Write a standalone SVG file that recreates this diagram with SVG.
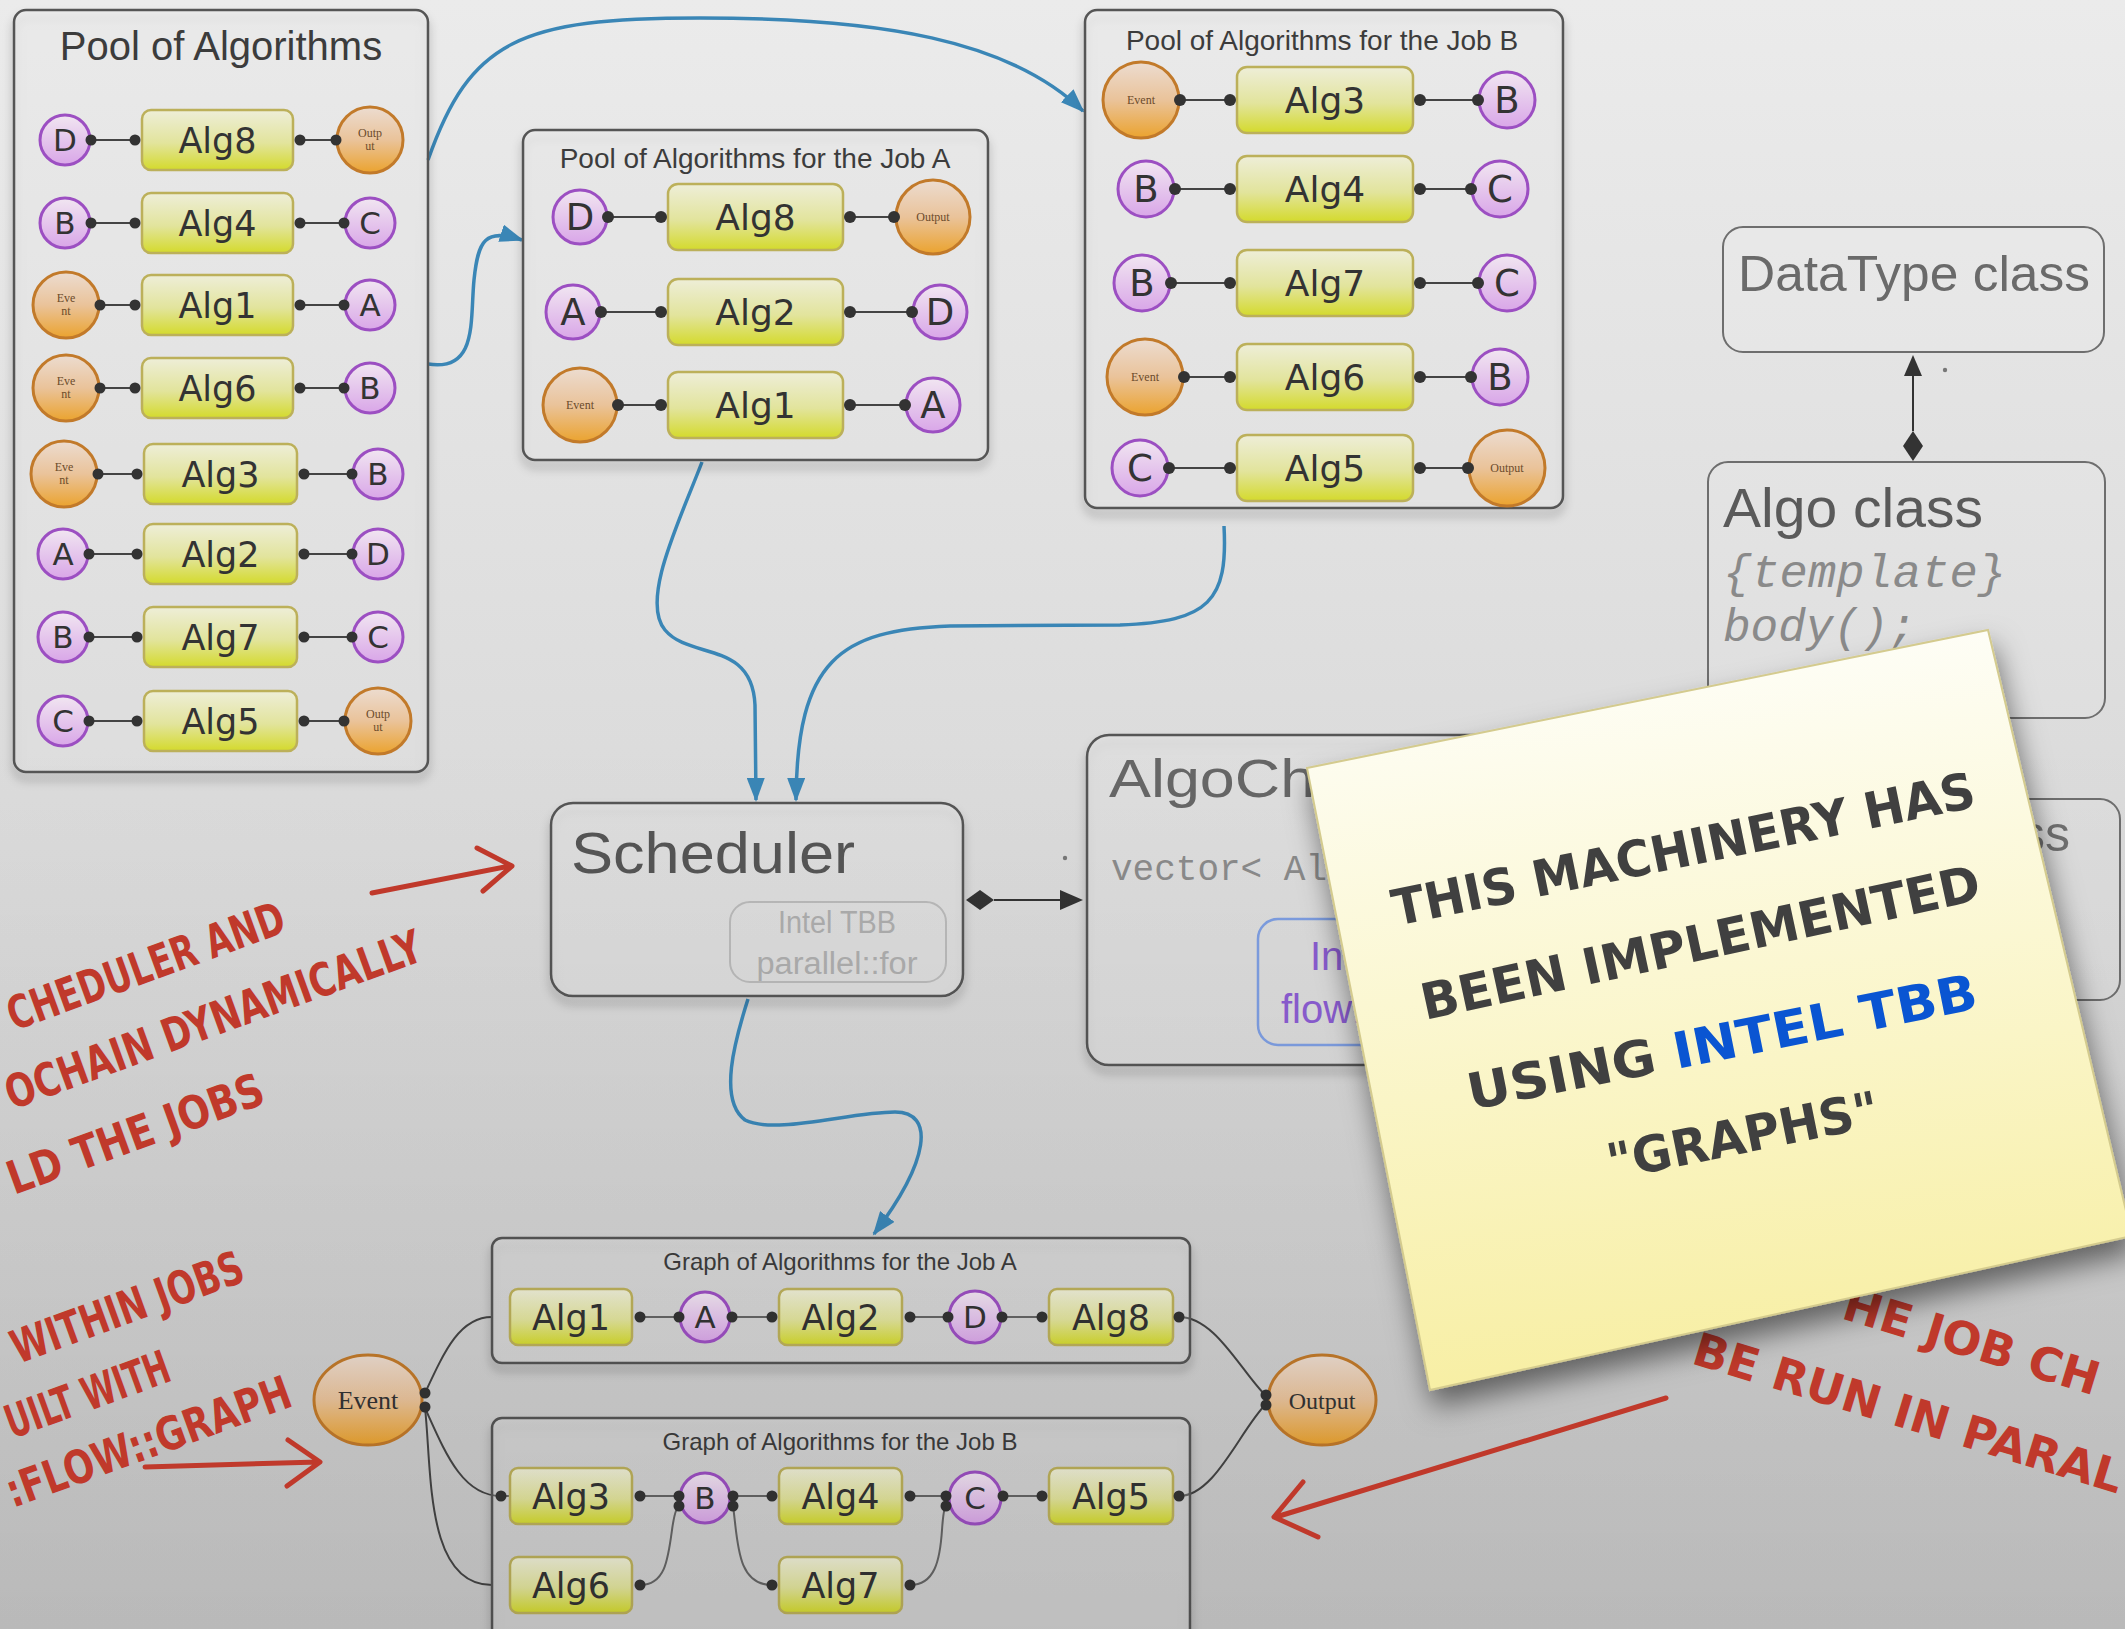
<svg xmlns="http://www.w3.org/2000/svg" width="2125" height="1629" viewBox="0 0 2125 1629">
<defs>
<linearGradient id="bg" x1="0" y1="0" x2="0" y2="1"><stop offset="0" stop-color="#ebebeb"/><stop offset="0.55" stop-color="#d9d9d9"/><stop offset="1" stop-color="#c9c9c9"/></linearGradient>
<linearGradient id="vig" x1="0" y1="0" x2="0" y2="1"><stop offset="0.45" stop-color="#000" stop-opacity="0"/><stop offset="1" stop-color="#000" stop-opacity="0.08"/></linearGradient>
<linearGradient id="gAlg" x1="0" y1="0" x2="0" y2="1"><stop offset="0" stop-color="#eeeed8"/><stop offset="0.55" stop-color="#e2e49c"/><stop offset="1" stop-color="#d4da2c"/></linearGradient>
<linearGradient id="gPur" x1="0" y1="0" x2="0" y2="1"><stop offset="0" stop-color="#f1e6f1"/><stop offset="1" stop-color="#d9a6e8"/></linearGradient>
<linearGradient id="gOr" x1="0" y1="0" x2="0" y2="1"><stop offset="0" stop-color="#ecdcd0"/><stop offset="0.5" stop-color="#eac39a"/><stop offset="1" stop-color="#eba32e"/></linearGradient>
<linearGradient id="gNote" gradientUnits="userSpaceOnUse" x1="1700" y1="640" x2="1780" y2="1390"><stop offset="0" stop-color="#fefef8"/><stop offset="1" stop-color="#f7eea0"/></linearGradient>
<filter id="sh" x="-10%" y="-10%" width="120%" height="130%"><feDropShadow dx="0" dy="7" stdDeviation="5" flood-color="#000" flood-opacity="0.35"/></filter>
<filter id="shn" x="-20%" y="-20%" width="140%" height="150%"><feDropShadow dx="4" dy="16" stdDeviation="14" flood-color="#000" flood-opacity="0.5"/></filter>
<marker id="ab" markerUnits="userSpaceOnUse" markerWidth="26" markerHeight="18" refX="22" refY="9" orient="auto"><path d="M0,0 L24,9 L0,18 z" fill="#3a86b6"/></marker>
<style>
.box{fill:#fff;fill-opacity:.16;stroke:#555;stroke-width:2.5}
.cls{fill:#fff;fill-opacity:.08;stroke:#6e6e6e;stroke-width:2}
.alg{fill:url(#gAlg);stroke:#bcb05a;stroke-width:2.5}
.pc{fill:url(#gPur);stroke:#9c4fc2;stroke-width:3}
.oc{fill:url(#gOr);stroke:#c27a2a;stroke-width:3}
.at{font-family:"DejaVu Sans",sans-serif;font-size:35px;fill:#333;text-anchor:middle}
.at2{font-family:"DejaVu Sans",sans-serif;font-size:36px;fill:#333;text-anchor:middle}
.ct{font-family:"DejaVu Sans",sans-serif;font-size:31px;fill:#333;text-anchor:middle}
.ct2{font-family:"DejaVu Sans",sans-serif;font-size:37px;fill:#333;text-anchor:middle}
.tiny{font-family:"Liberation Serif",serif;font-size:12px;fill:#6b4b2b;text-anchor:middle}
.ttl{font-family:"Liberation Sans",Arial,sans-serif;fill:#3c3c3c;text-anchor:middle}
.wire{stroke:#444;stroke-width:2;fill:none}
.dot{fill:#333}
.blue{stroke:#3a86b6;stroke-width:3.5;fill:none;marker-end:url(#ab)}
.red{font-family:"DejaVu Sans",sans-serif;font-weight:bold;font-size:46px;fill:#c0392b}
.redl{stroke:#c0392b;stroke-width:5;fill:none;stroke-linecap:round;stroke-linejoin:round}
.note{font-family:"DejaVu Sans",sans-serif;font-weight:bold;font-size:50px;fill:#404040}
.geo{font-family:"Liberation Sans",Arial,sans-serif}
.mono{font-family:"Liberation Mono","Courier New",monospace}
</style>
</defs>
<rect width="2125" height="1629" fill="url(#bg)"/>

<g id="connectors">
<path class="blue" d="M428 160 C470 40 520 18 700 18 C880 18 1010 40 1083 111"/>
<path class="blue" d="M428 364 C478 372 470 320 474 280 C478 240 485 228 522 240"/>
<path class="blue" d="M702 462 C680 520 640 600 665 630 C690 660 752 640 755 705 L756 800"/>
<path class="blue" d="M1224 526 C1228 600 1210 622 1120 625 L950 626 C840 630 797 660 796 800"/>
<path class="blue" d="M748 999 C735 1040 718 1100 745 1120 C775 1135 850 1112 895 1112 C935 1112 930 1160 874 1234"/>
<g id="sched-algochain">
<line x1="994" y1="900" x2="1066" y2="900" stroke="#333" stroke-width="2"/>
<polygon points="966,900 980,890 994,900 980,910" fill="#333"/>
<polygon points="1083,900 1060,890 1060,910" fill="#333"/>
<circle cx="1065" cy="858" r="2.2" fill="#777"/>
</g>
<g id="algo-datatype">
<line x1="1913" y1="431" x2="1913" y2="372" stroke="#333" stroke-width="2"/>
<polygon points="1913,431 1923,446 1913,461 1903,446" fill="#333"/>
<polygon points="1913,355 1904,376 1922,376" fill="#333"/>
<circle cx="1945" cy="370" r="2.2" fill="#777"/>
</g>
<g id="graph-wires">
<path class="wire" d="M425 1393 C445 1350 460 1317 492 1317"/>
<path class="wire" d="M425 1408 C445 1452 462 1496 501 1496"/>
<path class="wire" d="M425 1408 C432 1470 425 1585 492 1585"/>
<path class="wire" d="M1179 1317 C1215 1317 1240 1370 1266 1396"/>
<path class="wire" d="M1179 1496 C1215 1496 1240 1430 1266 1404"/>
<path class="wire" d="M640 1317 H679 M732 1317 H772 M910 1317 H948 M1002 1317 H1042"/>
<path class="wire" d="M501 1496 H510 M640 1496 H679 M733 1496 H772 M910 1496 H946 M1003 1496 H1042"/>
<path class="wire" d="M640 1585 C665 1585 668 1560 672 1530 C674 1515 676 1508 679 1506"/>
<path class="wire" d="M733 1506 C738 1540 736 1585 772 1585"/>
<path class="wire" d="M910 1585 C935 1585 940 1560 942 1530 C943 1515 944 1508 946 1506"/>
</g>
</g>

<g id="pool" filter="url(#sh)"><rect class="box" x="14" y="10" width="414" height="762" rx="12"/></g>
<text class="ttl" x="221" y="60" font-size="40">Pool of Algorithms</text>

<g id="p0-r1">
<line class="wire" x1="91" y1="140" x2="135" y2="140"/><line class="wire" x1="300" y1="140" x2="336" y2="140"/>
<circle class="pc" cx="65" cy="140" r="25"/><text class="ct" x="65" y="151">D</text>
<rect class="alg" x="142" y="110" width="151" height="60" rx="9"/><text class="at" x="217.5" y="153">Alg8</text>
<circle class="oc" cx="370" cy="140" r="33"/><text class="tiny" x="370" y="137">Outp</text><text class="tiny" x="370" y="150">ut</text>
<circle class="dot" cx="91" cy="140" r="5.5"/><circle class="dot" cx="135" cy="140" r="5.5"/><circle class="dot" cx="300" cy="140" r="5.5"/><circle class="dot" cx="336" cy="140" r="5.5"/>
</g>
<g id="p0-r2">
<line class="wire" x1="91" y1="223" x2="135" y2="223"/><line class="wire" x1="300" y1="223" x2="344" y2="223"/>
<circle class="pc" cx="65" cy="223" r="25"/><text class="ct" x="65" y="234">B</text>
<rect class="alg" x="142" y="193" width="151" height="60" rx="9"/><text class="at" x="217.5" y="236">Alg4</text>
<circle class="pc" cx="370" cy="223" r="25"/><text class="ct" x="370" y="234">C</text>
<circle class="dot" cx="91" cy="223" r="5.5"/><circle class="dot" cx="135" cy="223" r="5.5"/><circle class="dot" cx="300" cy="223" r="5.5"/><circle class="dot" cx="344" cy="223" r="5.5"/>
</g>
<g id="p0-r3">
<line class="wire" x1="100" y1="305" x2="135" y2="305"/><line class="wire" x1="300" y1="305" x2="344" y2="305"/>
<circle class="oc" cx="66" cy="305" r="33"/><text class="tiny" x="66" y="302">Eve</text><text class="tiny" x="66" y="315">nt</text>
<rect class="alg" x="142" y="275" width="151" height="60" rx="9"/><text class="at" x="217.5" y="318">Alg1</text>
<circle class="pc" cx="370" cy="305" r="25"/><text class="ct" x="370" y="316">A</text>
<circle class="dot" cx="100" cy="305" r="5.5"/><circle class="dot" cx="135" cy="305" r="5.5"/><circle class="dot" cx="300" cy="305" r="5.5"/><circle class="dot" cx="344" cy="305" r="5.5"/>
</g>
<g id="p0-r4">
<line class="wire" x1="100" y1="388" x2="135" y2="388"/><line class="wire" x1="300" y1="388" x2="344" y2="388"/>
<circle class="oc" cx="66" cy="388" r="33"/><text class="tiny" x="66" y="385">Eve</text><text class="tiny" x="66" y="398">nt</text>
<rect class="alg" x="142" y="358" width="151" height="60" rx="9"/><text class="at" x="217.5" y="401">Alg6</text>
<circle class="pc" cx="370" cy="388" r="25"/><text class="ct" x="370" y="399">B</text>
<circle class="dot" cx="100" cy="388" r="5.5"/><circle class="dot" cx="135" cy="388" r="5.5"/><circle class="dot" cx="300" cy="388" r="5.5"/><circle class="dot" cx="344" cy="388" r="5.5"/>
</g>
<g id="p0-r5">
<line class="wire" x1="98" y1="474" x2="137" y2="474"/><line class="wire" x1="304" y1="474" x2="352" y2="474"/>
<circle class="oc" cx="64" cy="474" r="33"/><text class="tiny" x="64" y="471">Eve</text><text class="tiny" x="64" y="484">nt</text>
<rect class="alg" x="144" y="444" width="153" height="60" rx="9"/><text class="at" x="220.5" y="487">Alg3</text>
<circle class="pc" cx="378" cy="474" r="25"/><text class="ct" x="378" y="485">B</text>
<circle class="dot" cx="98" cy="474" r="5.5"/><circle class="dot" cx="137" cy="474" r="5.5"/><circle class="dot" cx="304" cy="474" r="5.5"/><circle class="dot" cx="352" cy="474" r="5.5"/>
</g>
<g id="p0-r6">
<line class="wire" x1="89" y1="554" x2="137" y2="554"/><line class="wire" x1="304" y1="554" x2="352" y2="554"/>
<circle class="pc" cx="63" cy="554" r="25"/><text class="ct" x="63" y="565">A</text>
<rect class="alg" x="144" y="524" width="153" height="60" rx="9"/><text class="at" x="220.5" y="567">Alg2</text>
<circle class="pc" cx="378" cy="554" r="25"/><text class="ct" x="378" y="565">D</text>
<circle class="dot" cx="89" cy="554" r="5.5"/><circle class="dot" cx="137" cy="554" r="5.5"/><circle class="dot" cx="304" cy="554" r="5.5"/><circle class="dot" cx="352" cy="554" r="5.5"/>
</g>
<g id="p0-r7">
<line class="wire" x1="89" y1="637" x2="137" y2="637"/><line class="wire" x1="304" y1="637" x2="352" y2="637"/>
<circle class="pc" cx="63" cy="637" r="25"/><text class="ct" x="63" y="648">B</text>
<rect class="alg" x="144" y="607" width="153" height="60" rx="9"/><text class="at" x="220.5" y="650">Alg7</text>
<circle class="pc" cx="378" cy="637" r="25"/><text class="ct" x="378" y="648">C</text>
<circle class="dot" cx="89" cy="637" r="5.5"/><circle class="dot" cx="137" cy="637" r="5.5"/><circle class="dot" cx="304" cy="637" r="5.5"/><circle class="dot" cx="352" cy="637" r="5.5"/>
</g>
<g id="p0-r8">
<line class="wire" x1="89" y1="721" x2="137" y2="721"/><line class="wire" x1="304" y1="721" x2="344" y2="721"/>
<circle class="pc" cx="63" cy="721" r="25"/><text class="ct" x="63" y="732">C</text>
<rect class="alg" x="144" y="691" width="153" height="60" rx="9"/><text class="at" x="220.5" y="734">Alg5</text>
<circle class="oc" cx="378" cy="721" r="33"/><text class="tiny" x="378" y="718">Outp</text><text class="tiny" x="378" y="731">ut</text>
<circle class="dot" cx="89" cy="721" r="5.5"/><circle class="dot" cx="137" cy="721" r="5.5"/><circle class="dot" cx="304" cy="721" r="5.5"/><circle class="dot" cx="344" cy="721" r="5.5"/>
</g>

<g id="poolA" filter="url(#sh)"><rect class="box" x="523" y="130" width="465" height="330" rx="12"/></g>
<text class="ttl" x="755" y="168" font-size="28">Pool of Algorithms for the Job A</text>
<g id="pa-r1">
<line class="wire" x1="608" y1="217" x2="661" y2="217"/><line class="wire" x1="850" y1="217" x2="894" y2="217"/>
<circle class="pc" cx="580" cy="217" r="27"/><text class="ct2" x="580" y="230">D</text>
<rect class="alg" x="668" y="184" width="175" height="66" rx="10"/><text class="at2" x="755.5" y="230">Alg8</text>
<circle class="oc" cx="933" cy="217" r="37"/><text class="tiny" x="933" y="221">Output</text>
<circle class="dot" cx="608" cy="217" r="6"/><circle class="dot" cx="661" cy="217" r="6"/><circle class="dot" cx="850" cy="217" r="6"/><circle class="dot" cx="894" cy="217" r="6"/>
</g>
<g id="pa-r2">
<line class="wire" x1="601" y1="312" x2="661" y2="312"/><line class="wire" x1="850" y1="312" x2="912" y2="312"/>
<circle class="pc" cx="573" cy="312" r="27"/><text class="ct2" x="573" y="325">A</text>
<rect class="alg" x="668" y="279" width="175" height="66" rx="10"/><text class="at2" x="755.5" y="325">Alg2</text>
<circle class="pc" cx="940" cy="312" r="27"/><text class="ct2" x="940" y="325">D</text>
<circle class="dot" cx="601" cy="312" r="6"/><circle class="dot" cx="661" cy="312" r="6"/><circle class="dot" cx="850" cy="312" r="6"/><circle class="dot" cx="912" cy="312" r="6"/>
</g>
<g id="pa-r3">
<line class="wire" x1="618" y1="405" x2="661" y2="405"/><line class="wire" x1="850" y1="405" x2="905" y2="405"/>
<circle class="oc" cx="580" cy="405" r="37"/><text class="tiny" x="580" y="409">Event</text>
<rect class="alg" x="668" y="372" width="175" height="66" rx="10"/><text class="at2" x="755.5" y="418">Alg1</text>
<circle class="pc" cx="933" cy="405" r="27"/><text class="ct2" x="933" y="418">A</text>
<circle class="dot" cx="618" cy="405" r="6"/><circle class="dot" cx="661" cy="405" r="6"/><circle class="dot" cx="850" cy="405" r="6"/><circle class="dot" cx="905" cy="405" r="6"/>
</g>

<g id="poolB" filter="url(#sh)"><rect class="box" x="1085" y="10" width="478" height="498" rx="12"/></g>
<text class="ttl" x="1322" y="50" font-size="28">Pool of Algorithms for the Job B</text>
<g id="pb-r1">
<line class="wire" x1="1180" y1="100" x2="1230" y2="100"/><line class="wire" x1="1420" y1="100" x2="1478" y2="100"/>
<circle class="oc" cx="1141" cy="100" r="38"/><text class="tiny" x="1141" y="104">Event</text>
<rect class="alg" x="1237" y="67" width="176" height="66" rx="10"/><text class="at2" x="1325" y="113">Alg3</text>
<circle class="pc" cx="1507" cy="100" r="28"/><text class="ct2" x="1507" y="113">B</text>
<circle class="dot" cx="1180" cy="100" r="6"/><circle class="dot" cx="1230" cy="100" r="6"/><circle class="dot" cx="1420" cy="100" r="6"/><circle class="dot" cx="1478" cy="100" r="6"/>
</g>
<g id="pb-r2">
<line class="wire" x1="1175" y1="189" x2="1230" y2="189"/><line class="wire" x1="1420" y1="189" x2="1471" y2="189"/>
<circle class="pc" cx="1146" cy="189" r="28"/><text class="ct2" x="1146" y="202">B</text>
<rect class="alg" x="1237" y="156" width="176" height="66" rx="10"/><text class="at2" x="1325" y="202">Alg4</text>
<circle class="pc" cx="1500" cy="189" r="28"/><text class="ct2" x="1500" y="202">C</text>
<circle class="dot" cx="1175" cy="189" r="6"/><circle class="dot" cx="1230" cy="189" r="6"/><circle class="dot" cx="1420" cy="189" r="6"/><circle class="dot" cx="1471" cy="189" r="6"/>
</g>
<g id="pb-r3">
<line class="wire" x1="1171" y1="283" x2="1230" y2="283"/><line class="wire" x1="1420" y1="283" x2="1478" y2="283"/>
<circle class="pc" cx="1142" cy="283" r="28"/><text class="ct2" x="1142" y="296">B</text>
<rect class="alg" x="1237" y="250" width="176" height="66" rx="10"/><text class="at2" x="1325" y="296">Alg7</text>
<circle class="pc" cx="1507" cy="283" r="28"/><text class="ct2" x="1507" y="296">C</text>
<circle class="dot" cx="1171" cy="283" r="6"/><circle class="dot" cx="1230" cy="283" r="6"/><circle class="dot" cx="1420" cy="283" r="6"/><circle class="dot" cx="1478" cy="283" r="6"/>
</g>
<g id="pb-r4">
<line class="wire" x1="1184" y1="377" x2="1230" y2="377"/><line class="wire" x1="1420" y1="377" x2="1471" y2="377"/>
<circle class="oc" cx="1145" cy="377" r="38"/><text class="tiny" x="1145" y="381">Event</text>
<rect class="alg" x="1237" y="344" width="176" height="66" rx="10"/><text class="at2" x="1325" y="390">Alg6</text>
<circle class="pc" cx="1500" cy="377" r="28"/><text class="ct2" x="1500" y="390">B</text>
<circle class="dot" cx="1184" cy="377" r="6"/><circle class="dot" cx="1230" cy="377" r="6"/><circle class="dot" cx="1420" cy="377" r="6"/><circle class="dot" cx="1471" cy="377" r="6"/>
</g>
<g id="pb-r5">
<line class="wire" x1="1169" y1="468" x2="1230" y2="468"/><line class="wire" x1="1420" y1="468" x2="1468" y2="468"/>
<circle class="pc" cx="1140" cy="468" r="28"/><text class="ct2" x="1140" y="481">C</text>
<rect class="alg" x="1237" y="435" width="176" height="66" rx="10"/><text class="at2" x="1325" y="481">Alg5</text>
<circle class="oc" cx="1507" cy="468" r="38"/><text class="tiny" x="1507" y="472">Output</text>
<circle class="dot" cx="1169" cy="468" r="6"/><circle class="dot" cx="1230" cy="468" r="6"/><circle class="dot" cx="1420" cy="468" r="6"/><circle class="dot" cx="1468" cy="468" r="6"/>
</g>

<g id="datatype">
<rect class="cls" x="1723" y="227" width="381" height="125" rx="20"/>
<text class="geo" x="1738" y="291" font-size="50" fill="#6a6a6a" textLength="352" lengthAdjust="spacingAndGlyphs">DataType class</text>
</g>
<g id="algo">
<rect class="cls" x="1708" y="462" width="397" height="256" rx="20"/>
<text class="geo" x="1723" y="527" font-size="56" fill="#5a5a5a" textLength="260" lengthAdjust="spacingAndGlyphs">Algo class</text>
<text class="mono" x="1723" y="587" font-size="46" font-style="italic" fill="#8a8a8a" textLength="283" lengthAdjust="spacingAndGlyphs">{template}</text>
<text class="mono" x="1723" y="641" font-size="46" font-style="italic" fill="#8a8a8a">body();</text>
</g>
<g id="chainclass">
<rect class="cls" x="1740" y="799" width="380" height="201" rx="20"/>
<text class="geo" x="2070" y="851" font-size="50" fill="#707070" text-anchor="end">class</text>
</g>

<g id="scheduler">
<rect class="box" x="551" y="803" width="412" height="193" rx="22" filter="url(#sh)"/>
<text class="geo" x="571" y="873" font-size="58" fill="#555" textLength="284" lengthAdjust="spacingAndGlyphs">Scheduler</text>
<rect x="730" y="902" width="216" height="80" rx="20" fill="none" stroke="#b8b8b8" stroke-width="2"/>
<text class="geo" x="837" y="933" font-size="31" fill="#acacac" text-anchor="middle" textLength="118" lengthAdjust="spacingAndGlyphs">Intel TBB</text>
<text class="geo" x="837" y="974" font-size="31" fill="#acacac" text-anchor="middle" textLength="161" lengthAdjust="spacingAndGlyphs">parallel::for</text>
</g>

<g id="algochain">
<rect class="box" x="1087" y="735" width="650" height="330" rx="22" filter="url(#sh)"/>
<text class="geo" x="1109" y="797" font-size="54" fill="#666" textLength="290" lengthAdjust="spacingAndGlyphs">AlgoChain</text>
<text class="mono" x="1111" y="880" font-size="36" fill="#8a8a8a">vector&lt; Algo &gt;</text>
<rect x="1258" y="919" width="260" height="126" rx="20" fill="none" stroke="#7d9de0" stroke-width="2.5"/>
<text class="geo" x="1310" y="970" font-size="40" fill="#8a5cd0">Intel TBB</text>
<text class="geo" x="1281" y="1023" font-size="40" fill="#8a5cd0">flow::graph</text>
</g>

<g id="graphA">
<rect class="box" x="492" y="1238" width="698" height="125" rx="10" filter="url(#sh)"/>
<text class="ttl" x="840" y="1270" font-size="24" fill="#333">Graph of Algorithms for the Job A</text>
<rect class="alg" x="510" y="1289" width="122" height="56" rx="8"/><text class="at" x="571" y="1330">Alg1</text>
<circle class="pc" cx="705" cy="1317" r="25"/><text class="ct" x="705" y="1328">A</text>
<rect class="alg" x="779" y="1289" width="123" height="56" rx="8"/><text class="at" x="840.5" y="1330">Alg2</text>
<circle class="pc" cx="975" cy="1317" r="26"/><text class="ct" x="975" y="1328">D</text>
<rect class="alg" x="1049" y="1289" width="124" height="56" rx="8"/><text class="at" x="1111" y="1330">Alg8</text>
<circle class="dot" cx="640" cy="1317" r="5.5"/><circle class="dot" cx="679" cy="1317" r="5.5"/><circle class="dot" cx="732" cy="1317" r="5.5"/><circle class="dot" cx="772" cy="1317" r="5.5"/><circle class="dot" cx="910" cy="1317" r="5.5"/><circle class="dot" cx="948" cy="1317" r="5.5"/><circle class="dot" cx="1002" cy="1317" r="5.5"/><circle class="dot" cx="1042" cy="1317" r="5.5"/><circle class="dot" cx="1179" cy="1317" r="5.5"/>
</g>
<g id="graphB">
<rect class="box" x="492" y="1418" width="698" height="240" rx="10" filter="url(#sh)"/>
<text class="ttl" x="840" y="1450" font-size="24" fill="#333">Graph of Algorithms for the Job B</text>
<rect class="alg" x="510" y="1468" width="122" height="56" rx="8"/><text class="at" x="571" y="1509">Alg3</text>
<circle class="pc" cx="705" cy="1498" r="25"/><text class="ct" x="705" y="1509">B</text>
<rect class="alg" x="779" y="1468" width="123" height="56" rx="8"/><text class="at" x="840.5" y="1509">Alg4</text>
<circle class="pc" cx="975" cy="1498" r="26"/><text class="ct" x="975" y="1509">C</text>
<rect class="alg" x="1049" y="1468" width="124" height="56" rx="8"/><text class="at" x="1111" y="1509">Alg5</text>
<rect class="alg" x="510" y="1557" width="122" height="56" rx="8"/><text class="at" x="571" y="1598">Alg6</text>
<rect class="alg" x="779" y="1557" width="123" height="56" rx="8"/><text class="at" x="840.5" y="1598">Alg7</text>
<circle class="dot" cx="501" cy="1496" r="5.5"/><circle class="dot" cx="640" cy="1496" r="5.5"/><circle class="dot" cx="679" cy="1496" r="5.5"/><circle class="dot" cx="679" cy="1506" r="5.5"/><circle class="dot" cx="733" cy="1496" r="5.5"/><circle class="dot" cx="733" cy="1506" r="5.5"/><circle class="dot" cx="772" cy="1496" r="5.5"/><circle class="dot" cx="910" cy="1496" r="5.5"/><circle class="dot" cx="946" cy="1496" r="5.5"/><circle class="dot" cx="946" cy="1506" r="5.5"/><circle class="dot" cx="1003" cy="1496" r="5.5"/><circle class="dot" cx="1042" cy="1496" r="5.5"/><circle class="dot" cx="1179" cy="1496" r="5.5"/>
<circle class="dot" cx="640" cy="1585" r="5.5"/><circle class="dot" cx="772" cy="1585" r="5.5"/><circle class="dot" cx="910" cy="1585" r="5.5"/>
</g>
<g id="event">
<ellipse class="oc" cx="368" cy="1400" rx="54" ry="45"/>
<text x="368" y="1409" font-family="Liberation Serif,serif" font-size="26" fill="#333" text-anchor="middle">Event</text>
<circle class="dot" cx="425" cy="1393" r="5.5"/><circle class="dot" cx="425" cy="1407" r="5.5"/>
</g>
<g id="output">
<ellipse class="oc" cx="1322" cy="1400" rx="54" ry="45"/>
<text x="1322" y="1409" font-family="Liberation Serif,serif" font-size="24" fill="#333" text-anchor="middle">Output</text>
<circle class="dot" cx="1266" cy="1395" r="5.5"/><circle class="dot" cx="1266" cy="1405" r="5.5"/>
</g>

<rect width="2125" height="1629" fill="url(#vig)" pointer-events="none"/>

<g id="annotations">
<text class="red" transform="translate(14,1031) rotate(-20)" textLength="292" lengthAdjust="spacingAndGlyphs">CHEDULER AND</text>
<text class="red" transform="translate(12,1110) rotate(-20)" textLength="440" lengthAdjust="spacingAndGlyphs">OCHAIN DYNAMICALLY</text>
<text class="red" transform="translate(14,1195) rotate(-20)" textLength="270" lengthAdjust="spacingAndGlyphs">LD THE JOBS</text>
<text class="red" transform="translate(18,1364) rotate(-20)" textLength="244" lengthAdjust="spacingAndGlyphs">WITHIN JOBS</text>
<text class="red" transform="translate(12,1439) rotate(-20)" textLength="172" lengthAdjust="spacingAndGlyphs">UILT WITH</text>
<text class="red" transform="translate(13,1508) rotate(-20)" textLength="300" lengthAdjust="spacingAndGlyphs">:FLOW::GRAPH</text>
<path class="redl" d="M372 893 L510 866 M477 848 L512 866 L483 891"/>
<path class="redl" d="M145 1467 L319 1462 M288 1440 L320 1462 L287 1486"/>
<path class="redl" d="M1666 1398 L1276 1517 M1303 1482 L1274 1517 L1318 1537"/>
<text class="red" font-size="48" transform="translate(1840,1318) rotate(17)">HE JOB CH</text>
<text class="red" font-size="48" transform="translate(1690,1363) rotate(17)">BE RUN IN PARAL</text>
</g>

<g id="note">
<polygon points="1307,768 1988,630 2132,1236 1430,1390" fill="url(#gNote)" stroke="#d4cb8e" stroke-width="2" filter="url(#shn)"/>
<text class="note" transform="translate(1396,926) rotate(-11.6)" textLength="594" lengthAdjust="spacingAndGlyphs">THIS MACHINERY HAS</text>
<text class="note" transform="translate(1425,1020) rotate(-12.2)" textLength="571" lengthAdjust="spacingAndGlyphs">BEEN IMPLEMENTED</text>
<text class="note" transform="translate(1471,1110) rotate(-11.3)" textLength="519" lengthAdjust="spacingAndGlyphs">USING <tspan fill="#0a55d2">INTEL TBB</tspan></text>
<text class="note" transform="translate(1611,1180) rotate(-11.4)" textLength="276" lengthAdjust="spacingAndGlyphs" fill="#0a55d2">"GRAPHS"</text>
</g>
</svg>
